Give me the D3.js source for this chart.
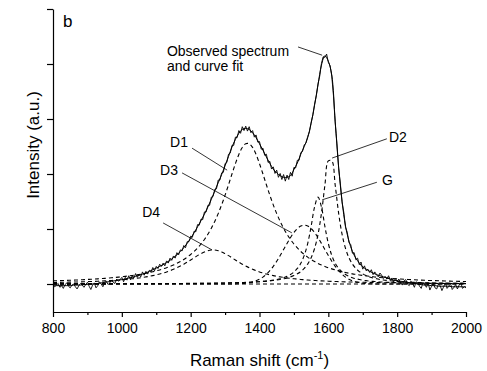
<!DOCTYPE html>
<html><head><meta charset="utf-8">
<script src="https://cdn.jsdelivr.net/npm/d3@7"></script>
<style>
body{margin:0;background:#fff}
svg{display:block}
text{font-family:"Liberation Sans",Arial,Helvetica,sans-serif;fill:#000}
</style>
</head><body>
<svg id="chart" width="487" height="371"></svg>
<script>
// ---------- data ----------
const xTicks = [800, 1000, 1200, 1400, 1600, 1800, 2000];
const xMinorTicks = [900, 1100, 1300, 1500, 1700, 1900];
const yTicks = [0, 1, 2, 3, 4, 5];

// wavenumber grids (cm-1)
const wn10 = d3.range(800, 2001, 10);
const wn5 = d3.range(800, 2001, 5);

// observed spectrum (step 5 cm-1)
const spectrum = [
-0.01,-0.05,-0.02,0.01,-0.06,-0.03,-0.08,-0.01,0.02,-0.04,-0.07,-0.02,0.00,-0.05,-0.09,-0.03,0.01,-0.02,-0.06,-0.01,0.03,
-0.04,-0.10,-0.02,0.02,-0.07,-0.03,0.04,0.00,-0.05,0.03,0.05,-0.01,0.02,0.07,0.03,0.01,0.09,0.05,0.08,0.12,
0.04,0.12,0.07,0.15,0.08,0.15,0.11,0.19,0.12,0.18,0.13,0.22,0.16,0.23,0.18,0.25,0.22,0.30,0.24,0.32,
0.28,0.36,0.32,0.38,0.33,0.42,0.38,0.47,0.43,0.51,0.47,0.57,0.53,0.62,0.60,0.70,0.66,0.77,0.77,0.87,
0.85,0.96,0.95,1.08,1.07,1.18,1.17,1.31,1.31,1.43,1.43,1.58,1.59,1.72,1.73,1.89,1.89,2.02,2.03,2.19,
2.21,2.36,2.38,2.52,2.52,2.67,2.66,2.79,2.74,2.86,2.79,2.87,2.78,2.86,2.75,2.79,2.67,2.71,2.58,2.59,
2.45,2.47,2.34,2.36,2.21,2.23,2.09,2.13,2.01,2.07,1.94,2.01,1.90,1.99,1.87,1.98,1.90,2.03,1.96,2.12,
2.11,2.25,2.25,2.39,2.41,2.53,2.56,2.68,2.77,2.94,3.07,3.27,3.42,3.64,3.78,4.01,4.13,4.12,4.18,4.03,
3.97,3.78,3.42,2.93,2.55,2.10,1.82,1.48,1.30,1.03,0.94,0.75,0.72,0.56,0.57,0.44,0.47,0.35,0.40,0.27,
0.33,0.24,0.27,0.21,0.26,0.17,0.22,0.17,0.13,0.20,0.16,0.10,0.14,0.09,0.15,0.07,0.11,0.04,0.10,0.05,
0.09,0.02,-0.02,0.06,0.08,0.00,-0.03,0.05,0.01,-0.06,0.04,0.02,-0.04,-0.08,0.03,-0.01,-0.06,0.02,-0.11,-0.04,
0.01,-0.07,-0.09,0.00,-0.03,-0.12,-0.05,0.02,-0.08,-0.04,0.01,-0.10,-0.06,-0.01,-0.09,-0.02,0.02,-0.08,-0.05,-0.07
];

// curve fit (step 10 cm-1)
const fit = [
-0.03,-0.03,-0.03,-0.03,-0.03,-0.03,-0.02,-0.02,-0.02,-0.01,-0.01,0.00,0.00,0.01,0.02,0.03,0.04,0.05,0.06,0.07,0.08,
0.09,0.11,0.12,0.14,0.16,0.18,0.20,0.23,0.26,0.29,0.32,0.35,0.39,0.43,0.48,0.53,0.59,0.66,0.74,0.83,
0.93,1.04,1.15,1.27,1.40,1.54,1.69,1.84,1.99,2.15,
2.32,2.49,2.63,2.74,2.81,2.83,2.81,2.75,2.66,2.55,
2.43,2.31,2.19,2.09,2.02,1.97,1.94,1.94,1.97,2.08,
2.20,2.36,2.50,2.66,2.92,3.25,3.62,3.98,4.15,4.05,
3.80,2.95,2.12,1.50,1.05,0.78,0.59,0.47,0.38,0.31,
0.27,0.23,0.20,0.17,0.15,0.13,0.11,0.09,0.07,0.06,
0.05,0.04,0.03,0.02,0.01,0.00,-0.01,-0.02,-0.02,-0.03,
-0.03,-0.04,-0.04,-0.04,-0.04,-0.05,-0.05,-0.05,-0.05,-0.05
];

// fitted bands (step 10 cm-1)
const bandD1 = [
0.057,0.059,0.061,0.063,0.065,0.068,0.071,0.073,0.076,0.079,0.083,0.086,0.090,0.094,0.099,0.103,0.108,0.113,0.119,0.125,0.132,
0.139,0.147,0.155,0.164,0.174,0.184,0.196,0.209,0.223,0.239,0.256,0.275,0.296,0.320,0.346,0.375,0.409,0.446,0.489,0.537,
0.591,0.655,0.727,0.810,0.905,1.013,1.138,1.280,1.439,1.615,
1.804,2.000,2.188,2.356,2.483,2.551,2.551,2.483,2.356,2.188,
2.000,1.804,1.615,1.439,1.280,1.138,1.013,0.905,0.810,0.727,
0.655,0.591,0.537,0.489,0.446,0.409,0.375,0.346,0.320,0.296,
0.275,0.256,0.239,0.223,0.209,0.196,0.184,0.174,0.164,0.155,
0.147,0.139,0.132,0.125,0.119,0.113,0.108,0.103,0.099,0.094,
0.090,0.086,0.083,0.079,0.076,0.073,0.071,0.068,0.065,0.063,
0.061,0.059,0.057,0.055,0.053,0.051,0.050,0.048,0.047,0.045
];
const bandD4 = [
0.027,0.029,0.030,0.031,0.033,0.034,0.036,0.037,0.039,0.041,0.043,0.046,0.048,0.051,0.054,0.057,0.060,0.064,0.068,0.072,0.077,
0.083,0.089,0.095,0.102,0.110,0.119,0.129,0.140,0.153,0.167,0.182,0.200,0.220,0.242,0.267,0.295,0.326,0.360,0.397,0.436,
0.476,0.516,0.552,0.584,0.606,0.619,0.619,0.606,0.584,0.552,
0.516,0.476,0.436,0.397,0.360,0.326,0.295,0.267,0.242,0.220,
0.200,0.182,0.167,0.153,0.140,0.129,0.119,0.110,0.102,0.095,
0.089,0.083,0.077,0.072,0.068,0.064,0.060,0.057,0.054,0.051,
0.048,0.046,0.043,0.041,0.039,0.037,0.036,0.034,0.033,0.031,
0.030,0.029,0.027,0.026,0.025,0.024,0.023,0.023,0.022,0.021,
0.020,0.020,0.019,0.018,0.018,0.017,0.017,0.016,0.016,0.015,
0.015,0.014,0.014,0.013,0.013,0.013,0.012,0.012,0.012,0.011
];
const bandD3 = [
0,0,0,0,0,0,0,0,0,0,0,0,0,0,0,0,0,0,0,0,0,
0,0,0,0,0,0,0,0,0,0,0,0,0,0,0,0,0,0,0,0,
0,0,0,0,0,0,0,0,0,0,
0,0,0.003,0.005,0.009,0.015,0.024,0.038,0.058,0.087,
0.126,0.177,0.242,0.321,0.413,0.517,0.627,0.738,0.843,0.936,
1.008,1.054,1.070,1.054,1.008,0.936,0.843,0.738,0.627,0.517,
0.413,0.321,0.242,0.177,0.126,0.087,0.058,0.038,0.024,0.015,
0.009,0.005,0.003,0,0,0,0,0,0,0,
0,0,0,0,0,0,0,0,0,0,
0,0,0,0,0,0,0,0,0,0
];
const bandG = [
0.002,0.002,0.002,0.002,0.002,0.002,0.003,0.003,0.003,0.003,0.003,0.003,0.003,0.003,0.003,0.003,0.003,0.003,0.004,0.004,0.004,
0.004,0.004,0.004,0.004,0.005,0.005,0.005,0.005,0.005,0.006,0.006,0.006,0.006,0.007,0.007,0.007,0.008,0.008,0.009,0.009,
0.010,0.010,0.011,0.011,0.012,0.013,0.014,0.015,0.016,0.017,
0.018,0.020,0.021,0.023,0.025,0.028,0.030,0.034,0.037,0.042,
0.047,0.053,0.061,0.070,0.082,0.096,0.115,0.140,0.172,0.218,
0.283,0.377,0.520,0.736,1.046,1.401,1.580,1.401,1.046,0.736,
0.520,0.377,0.283,0.218,0.172,0.140,0.115,0.096,0.082,0.070,
0.061,0.053,0.047,0.042,0.037,0.034,0.030,0.028,0.025,0.023,
0.021,0.020,0.018,0.017,0.016,0.015,0.014,0.013,0.012,0.011,
0.011,0.010,0.010,0.009,0.009,0.008,0.008,0.007,0.007,0.007
];
const bandD2 = [
0.003,0.003,0.003,0.003,0.003,0.003,0.003,0.003,0.003,0.004,0.004,0.004,0.004,0.004,0.004,0.004,0.004,0.005,0.005,0.005,0.005,
0.005,0.005,0.006,0.006,0.006,0.006,0.006,0.007,0.007,0.007,0.007,0.008,0.008,0.008,0.009,0.009,0.010,0.010,0.011,0.011,
0.012,0.012,0.013,0.014,0.014,0.015,0.016,0.017,0.018,0.019,
0.021,0.022,0.024,0.026,0.028,0.030,0.032,0.035,0.039,0.042,
0.047,0.052,0.058,0.065,0.073,0.083,0.095,0.110,0.129,0.153,
0.185,0.226,0.283,0.362,0.476,0.645,0.901,1.285,1.795,2.239,
2.239,1.795,1.285,0.901,0.645,0.476,0.362,0.283,0.226,0.185,
0.153,0.129,0.110,0.095,0.083,0.073,0.065,0.058,0.052,0.047,
0.042,0.039,0.035,0.032,0.030,0.028,0.026,0.024,0.022,0.021,
0.019,0.018,0.017,0.016,0.015,0.014,0.014,0.013,0.012,0.012
];
const baselineWn = [800, 2000];
const baselineVal = [0, 0];

// annotations (data coordinates)
const labelText = ["D1", "D3", "D4", "D2", "G"];
const labelWn   = [1140, 1111, 1059, 1776, 1756];
const labelVal  = [2.49, 1.98, 1.22, 2.58, 1.80];
const leaderFromWn  = [1204, 1175, 1120, 1770, 1741, 1512];
const leaderFromVal = [2.47, 2.02, 1.11, 2.64, 1.85, 4.31];
const leaderToWn    = [1306, 1494, 1262, 1611, 1582, 1582];
const leaderToVal   = [2.07, 0.93, 0.62, 2.29, 1.53, 4.16];
const noteLines = ["Observed spectrum", "and curve fit"];
const noteWn = 1131;
const noteVal = [4.145, 3.87];
const panelLetter = "b";
const panelWn = 829, panelVal = 4.67;

// ---------- chart ----------
const svg = d3.select("#chart");
const x = d3.scaleLinear().domain([800, 2000]).range([53, 466]);
const y = d3.scaleLinear().domain([-0.509, 5]).range([312, 9]);

const smooth = d3.line().x(d => x(d[0])).y(d => y(d[1])).curve(d3.curveCatmullRom.alpha(0.5));
const raw = d3.line().x(d => x(d[0])).y(d => y(d[1]));

const g = svg.append("g");
const bands = [bandD1, bandD4, bandD3, bandG, bandD2];
bands.forEach(b => {
  g.append("path").datum(wn10.map((w, i) => [w, b[i]]))
    .attr("d", smooth).attr("fill", "none").attr("stroke", "#000")
    .attr("stroke-width", 1.1).attr("stroke-dasharray", "4,3");
});
g.append("path").datum(baselineWn.map((w, i) => [w, baselineVal[i]]))
  .attr("d", raw).attr("fill", "none").attr("stroke", "#000")
  .attr("stroke-width", 1.1).attr("stroke-dasharray", "4,3");

g.append("path").datum(wn10.map((w, i) => [w, fit[i]]))
  .attr("d", smooth).attr("fill", "none").attr("stroke", "#000").attr("stroke-width", 1);
g.append("path").datum(wn5.map((w, i) => [w, spectrum[i]]))
  .attr("d", raw).attr("fill", "none").attr("stroke", "#000").attr("stroke-width", 0.9);

// leaders
leaderFromWn.forEach((w, i) => {
  svg.append("line")
    .attr("x1", x(w)).attr("y1", y(leaderFromVal[i]))
    .attr("x2", x(leaderToWn[i])).attr("y2", y(leaderToVal[i]))
    .attr("stroke", "#000").attr("stroke-width", 0.8);
});
labelText.forEach((t, i) => {
  svg.append("text").attr("x", x(labelWn[i])).attr("y", y(labelVal[i]))
    .attr("font-size", 14).text(t);
});
noteLines.forEach((t, i) => {
  svg.append("text").attr("x", x(noteWn)).attr("y", y(noteVal[i]))
    .attr("font-size", 14).text(t);
});
svg.append("text").attr("x", x(panelWn)).attr("y", y(panelVal))
  .attr("font-size", 17).text(panelLetter);

// axes
const xAxis = svg.append("g").attr("transform", "translate(0,312)")
  .call(d3.axisBottom(x).tickValues(xTicks).tickSize(5).tickSizeOuter(0).tickPadding(6).tickFormat(d3.format("d")));
xAxis.selectAll("text").attr("font-size", 14).style("font-family", '"Liberation Sans",Arial,sans-serif');
svg.append("g").attr("transform", "translate(0,312)")
  .call(d3.axisBottom(x).tickValues(xMinorTicks).tickSize(3).tickSizeOuter(0).tickFormat(""))
  .select(".domain").remove();
svg.append("g").attr("transform", "translate(53,0)")
  .call(d3.axisLeft(y).tickValues(yTicks).tickSize(6).tickSizeOuter(0).tickFormat(""));
svg.selectAll(".domain, .tick line").attr("stroke", "#000").attr("stroke-width", 1.2);

// axis titles
const xt = svg.append("text").attr("x", 259.5).attr("y", 366)
  .attr("text-anchor", "middle").attr("font-size", 17);
xt.append("tspan").text("Raman shift (cm");
xt.append("tspan").attr("font-size", 11).attr("dy", -7).text("-1");
xt.append("tspan").attr("dy", 7).text(")");
svg.append("text").attr("transform", "translate(39,145) rotate(-90)")
  .attr("text-anchor", "middle").attr("font-size", 17).text("Intensity (a.u.)");
</script>
</body></html>
